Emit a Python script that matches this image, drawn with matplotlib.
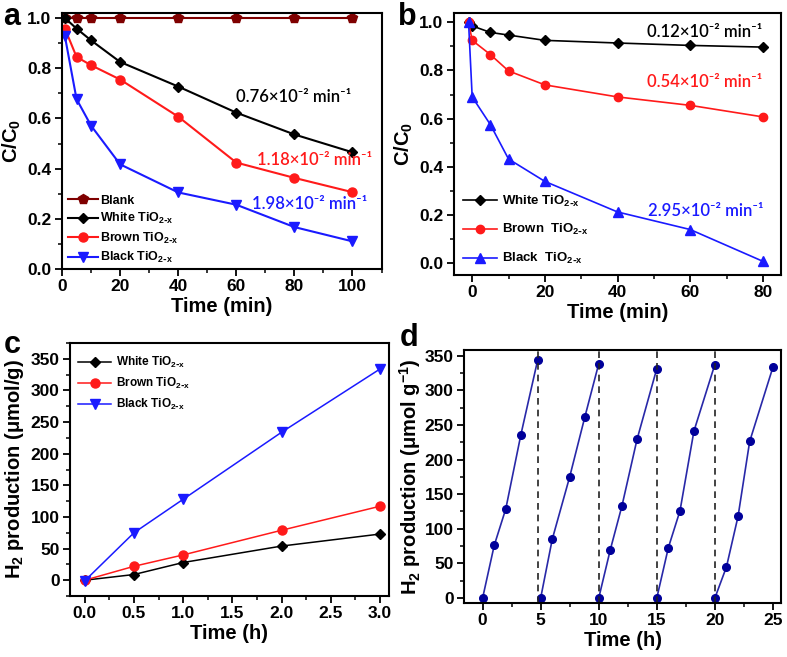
import matplotlib
matplotlib.use("Agg")
import matplotlib.pyplot as plt
from matplotlib.ticker import MultipleLocator

plt.rcParams['font.family'] = ['Liberation Sans', 'DejaVu Sans']
plt.rcParams['font.weight'] = 'bold'
plt.rcParams['mathtext.default'] = 'regular'

# panel a: degradation under light
time_a = [1, 5, 10, 20, 40, 60, 80, 100]
blank_a = [1.0, 1.0, 1.0, 1.0, 1.0, 1.0, 1.0, 1.0]
white_a = [1.0, 0.958, 0.911, 0.825, 0.727, 0.623, 0.536, 0.465]
brown_a = [0.958, 0.845, 0.812, 0.755, 0.607, 0.424, 0.363, 0.306]
black_a = [0.927, 0.677, 0.571, 0.417, 0.305, 0.256, 0.167, 0.110]
rates_a = ["0.76", "1.18", "1.98"]

# panel b
time_b = [-1, 0, 5, 10, 20, 40, 60, 80]
white_b = [1.0, 0.985, 0.958, 0.947, 0.925, 0.914, 0.904, 0.897]
brown_b = [1.0, 0.925, 0.866, 0.798, 0.740, 0.690, 0.655, 0.607]
black_b = [1.0, 0.690, 0.575, 0.432, 0.339, 0.212, 0.139, 0.007]
rates_b = ["0.12", "0.54", "2.95"]

# panel c: H2 production
time_c = [0, 0.5, 1.0, 2.0, 3.0]
white_c = [0, 9, 28, 54, 73]
brown_c = [0, 22, 40, 79, 117]
black_c = [-1, 75, 128, 234, 334]

# panel d: cycling
cycle_t = [
    [0, 1, 2, 3.3, 4.75],
    [5, 6, 7.5, 8.8, 10],
    [10, 11, 12, 13.3, 15],
    [15, 16, 17, 18.2, 20],
    [20, 21, 22, 23, 25],
]
cycle_h2 = [
    [0, 76, 129, 236, 344],
    [0, 85, 175, 261, 338],
    [0, 70, 133, 229, 331],
    [0, 73, 126, 241, 337],
    [0, 45, 118, 226, 333],
]
cycle_ends = [4.75, 10, 15, 20]

RED = '#ff1a1a'
BLUE = '#1a1aff'
DRED = '#7f0000'

fig = plt.figure(figsize=(7.87, 6.57), dpi=100)
ax_a = fig.add_axes([0.0788, 0.5906, 0.406, 0.3896])
ax_b = fig.add_axes([0.5769, 0.5814, 0.4155, 0.3993])
ax_c = fig.add_axes([0.0889, 0.0928, 0.4053, 0.3851])
ax_d = fig.add_axes([0.5896, 0.0822, 0.4028, 0.3851])


def style(ax):
    for s in ax.spines.values():
        s.set_linewidth(1.5)
    ax.tick_params(which='major', direction='out', length=5, width=1.3,
                   labelsize=12.5, pad=2.5, top=False, right=False)
    ax.tick_params(which='minor', direction='out', length=3, width=1.1,
                   top=False, right=False)
    for lab in ax.get_xticklabels() + ax.get_yticklabels():
        lab.set_fontweight('bold')


def sub(name):
    return name + r' TiO$_{\mathregular{2\text{-}x}}$'


def rate(value):
    return value + '\u00d710\u207b\u00b2 min\u207b\u00b9'


rate_font = dict(family=['Lato', 'DejaVu Sans'], fontsize=12, fontweight='semibold', va='center')
label_font = dict(fontsize=14.5, fontweight='bold')

# ---- a ----
ax_a.plot(time_a, blank_a, '-p', color=DRED, ms=7.5, lw=1.5, label='Blank')
ax_a.plot(time_a, white_a, '-D', color='black', ms=5.5, lw=1.5, label=sub('White'))
ax_a.plot(time_a, brown_a, '-o', color=RED, ms=6.5, lw=1.5, label=sub('Brown'))
ax_a.plot(time_a, black_a, '-v', color=BLUE, ms=7.5, lw=1.5, label=sub('Black'))
ax_a.set_xlim(0, 110)
ax_a.set_ylim(0, 1.02)
ax_a.xaxis.set_major_locator(MultipleLocator(20))
ax_a.xaxis.set_minor_locator(MultipleLocator(10))
ax_a.yaxis.set_major_locator(MultipleLocator(0.2))
ax_a.yaxis.set_minor_locator(MultipleLocator(0.1))
ax_a.set_xlabel('Time (min)', labelpad=2, **label_font)
ax_a.set_ylabel('C/C$_0$', labelpad=3, **label_font)
style(ax_a)
ax_a.text(60, 0.685, rate(rates_a[0]), color='black', **rate_font)
ax_a.text(67, 0.434, rate(rates_a[1]), color=RED, **rate_font)
ax_a.text(65.3, 0.26, rate(rates_a[2]), color=BLUE, **rate_font)
ax_a.legend(loc='lower left', bbox_to_anchor=(0.0, -0.01), frameon=False,
            handlelength=2.4, handletextpad=0.15, labelspacing=0.35,
            borderaxespad=0.1, prop=dict(weight='bold', size=9))

# ---- b ----
ax_b.plot(time_b, white_b, '-D', color='black', ms=5, lw=1.2, label=sub('White'))
ax_b.plot(time_b, brown_b, '-o', color=RED, ms=6, lw=1.2, label=sub('Brown '))
ax_b.plot(time_b, black_b, '-^', color=BLUE, ms=6.5, lw=1.2, label=sub('Black '))
ax_b.set_xlim(-5, 85)
ax_b.set_ylim(-0.05, 1.04)
ax_b.xaxis.set_major_locator(MultipleLocator(20))
ax_b.xaxis.set_minor_locator(MultipleLocator(10))
ax_b.yaxis.set_major_locator(MultipleLocator(0.2))
ax_b.yaxis.set_minor_locator(MultipleLocator(0.1))
ax_b.set_xlabel('Time (min)', labelpad=2, **label_font)
ax_b.set_ylabel('C/C$_0$', labelpad=3, **label_font)
style(ax_b)
ax_b.text(48.1, 0.958, rate(rates_b[0]), color='black', **rate_font)
ax_b.text(48.1, 0.751, rate(rates_b[1]), color=RED, **rate_font)
ax_b.text(48.4, 0.215, rate(rates_b[2]), color=BLUE, **rate_font)
ax_b.legend(loc='lower left', bbox_to_anchor=(0.0, 0.0), frameon=False,
            handlelength=2.6, handletextpad=0.4, labelspacing=1.05,
            borderaxespad=0.25, prop=dict(weight='bold', size=9.5))

# ---- c ----
ax_c.plot(time_c, white_c, '-D', color='black', ms=5.5, lw=1.1, label=sub('White'))
ax_c.plot(time_c, brown_c, '-o', color=RED, ms=6.5, lw=1.1, label=sub('Brown'))
ax_c.plot(time_c, black_c, '-v', color=BLUE, ms=7, lw=1.1, label=sub('Black'))
ax_c.set_xlim(-0.15, 3.09)
ax_c.set_ylim(-25, 375)
ax_c.xaxis.set_major_locator(MultipleLocator(0.5))
ax_c.xaxis.set_minor_locator(MultipleLocator(0.25))
ax_c.yaxis.set_major_locator(MultipleLocator(50))
ax_c.yaxis.set_minor_locator(MultipleLocator(25))
ax_c.set_xlabel('Time (h)', labelpad=2, **label_font)
ax_c.set_ylabel('H$_2$ production (\u03bcmol/g)', labelpad=3, **label_font)
style(ax_c)
ax_c.legend(loc='upper left', bbox_to_anchor=(0.0, 0.985), frameon=False,
            handlelength=2.8, handletextpad=0.4, labelspacing=0.5,
            borderaxespad=0.3, prop=dict(weight='bold', size=8.5))

# ---- d ----
for t, h in zip(cycle_t, cycle_h2):
    ax_d.plot(t, h, '-', color='#2828a8', lw=1.2)
    ax_d.plot(t, h, 'o', color='#00009a', ms=5.5)
for x in cycle_ends:
    ax_d.axvline(x, color='#222222', lw=1.2, ls=(0, (4, 3)))
ax_d.set_xlim(-1.6, 25.7)
ax_d.set_ylim(-7, 358)
ax_d.xaxis.set_major_locator(MultipleLocator(5))
ax_d.xaxis.set_minor_locator(MultipleLocator(2.5))
ax_d.yaxis.set_major_locator(MultipleLocator(50))
ax_d.yaxis.set_minor_locator(MultipleLocator(25))
ax_d.set_xlabel('Time (h)', labelpad=2, **label_font)
ax_d.set_ylabel('H$_2$ production (\u03bcmol g$^{-1}$)', labelpad=1, **label_font)
style(ax_d)

# panel letters, placed by baseline
for lbl, x, y in [('a', 0.004, 0.962), ('b', 0.506, 0.962), ('c', 0.005, 0.463), ('d', 0.508, 0.474)]:
    fig.text(x, y, lbl, fontsize=22, fontweight='bold', va='baseline', ha='left')

fig.savefig('out.png', dpi=100)
